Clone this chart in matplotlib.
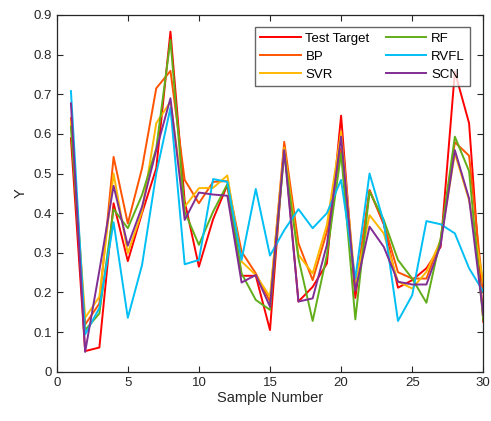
import matplotlib
matplotlib.use("Agg")
import matplotlib.pyplot as plt

plt.rcParams['font.family'] = ['Liberation Sans', 'DejaVu Sans']

samples = list(range(1, 31))
test_target = [0.589, 0.052, 0.061, 0.425, 0.279, 0.40, 0.513, 0.858, 0.43, 0.265,
               0.385, 0.471, 0.242, 0.242, 0.105, 0.572, 0.177, 0.214, 0.273, 0.646,
               0.186, 0.458, 0.372, 0.212, 0.231, 0.261, 0.315, 0.757, 0.627, 0.126]
bp = [0.640, 0.119, 0.172, 0.542, 0.374, 0.513, 0.715, 0.759, 0.484, 0.425,
      0.479, 0.481, 0.303, 0.248, 0.177, 0.580, 0.324, 0.231, 0.353, 0.564,
      0.205, 0.458, 0.375, 0.251, 0.235, 0.235, 0.332, 0.579, 0.545, 0.202]
svr = [0.630, 0.136, 0.189, 0.500, 0.299, 0.404, 0.627, 0.681, 0.416, 0.463,
       0.464, 0.495, 0.278, 0.244, 0.189, 0.565, 0.295, 0.248, 0.370, 0.606,
       0.220, 0.395, 0.349, 0.227, 0.210, 0.252, 0.330, 0.551, 0.433, 0.225]
rf = [0.618, 0.105, 0.147, 0.410, 0.362, 0.446, 0.563, 0.837, 0.404, 0.320,
      0.404, 0.473, 0.248, 0.181, 0.156, 0.551, 0.286, 0.128, 0.294, 0.551,
      0.132, 0.454, 0.383, 0.282, 0.235, 0.174, 0.336, 0.593, 0.506, 0.130]
rvfl = [0.708, 0.094, 0.161, 0.377, 0.136, 0.269, 0.500, 0.666, 0.271, 0.282,
        0.486, 0.479, 0.282, 0.461, 0.293, 0.357, 0.410, 0.362, 0.400, 0.484,
        0.235, 0.500, 0.378, 0.128, 0.193, 0.380, 0.372, 0.349, 0.261, 0.202]
scn = [0.677, 0.050, 0.255, 0.469, 0.318, 0.416, 0.559, 0.690, 0.383, 0.452,
       0.447, 0.444, 0.225, 0.244, 0.164, 0.559, 0.177, 0.185, 0.320, 0.593,
       0.204, 0.366, 0.315, 0.227, 0.220, 0.220, 0.320, 0.559, 0.437, 0.143]

series = [
    ("Test Target", test_target, (1.0, 0.0, 0.0)),
    ("BP", bp, (1.0, 0.33, 0.0)),
    ("SVR", svr, (1.0, 0.72, 0.0)),
    ("RF", rf, (0.38, 0.68, 0.10)),
    ("RVFL", rvfl, (0.0, 0.75, 0.96)),
    ("SCN", scn, (0.50, 0.18, 0.58)),
]

fig = plt.figure(figsize=(4.91, 4.21), dpi=100)
ax = fig.add_axes([0.1155, 0.1171, 0.8688, 0.8473])

for name, vals, col in series:
    ax.plot(samples, vals, color=col, lw=1.4, label=name)

ax.set_xlim(0, 30)
ax.set_ylim(0, 0.9)
ax.set_xticks([0, 5, 10, 15, 20, 25, 30])
ax.set_yticks([0, 0.1, 0.2, 0.3, 0.4, 0.5, 0.6, 0.7, 0.8, 0.9])
ax.set_yticklabels(["0", "0.1", "0.2", "0.3", "0.4", "0.5", "0.6", "0.7", "0.8", "0.9"])
ax.tick_params(direction='in', top=True, right=True, length=4, width=0.8,
               labelsize=9.5, colors='#262626')
for s in ax.spines.values():
    s.set_linewidth(0.9)
    s.set_color('#262626')
ax.set_xlabel("Sample Number", fontsize=10.5, color='#262626', labelpad=2)
ax.set_ylabel("Y", fontsize=10.5, color='#262626', labelpad=4)

leg = ax.legend(ncol=2, loc='upper right', bbox_to_anchor=(0.969, 0.965),
                fontsize=9.5, frameon=True, fancybox=False, handlelength=3.1,
                handletextpad=0.35, columnspacing=1.2, labelspacing=0.42,
                borderpad=0.4, borderaxespad=0.0)
leg.get_frame().set_edgecolor('#404040')
leg.get_frame().set_linewidth(1.0)

fig.savefig("out.png", dpi=100)
